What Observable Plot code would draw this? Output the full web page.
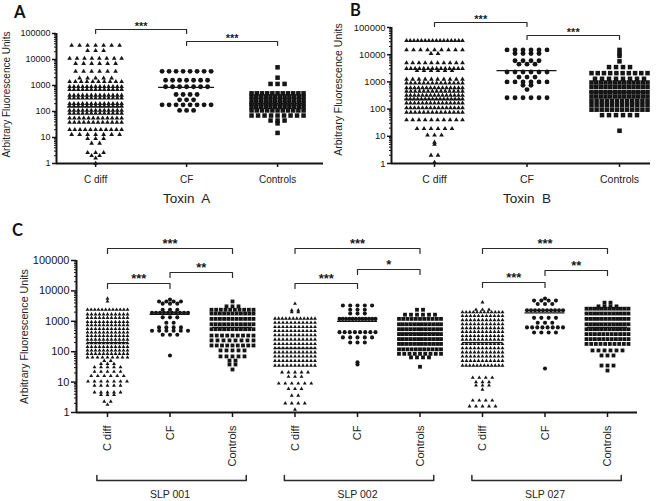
<!DOCTYPE html>
<html><head><meta charset="utf-8">
<script src="https://cdn.jsdelivr.net/npm/d3@7"></script>
<script src="https://cdn.jsdelivr.net/npm/@observablehq/plot@0.6"></script>
<style>
body{margin:0;background:#fff;}
#wrap{position:relative;width:660px;height:501px;overflow:hidden;background:#fff;}
#wrap > svg{position:absolute;}
</style></head><body><div id="wrap"></div><script>
// ---------- categories / labels ----------
const groupLabels = ["C diff", "CF", "Controls"];
const slpSets = ["SLP 001", "SLP 002", "SLP 027"];
const toxinTitles = ["Toxin  A", "Toxin  B"];
const panelLetters = ["A", "B", "C"];
const yTicks = [1, 10, 100, 1000, 10000, 100000];
const yLabel = "Arbitrary Fluorescence Units";

// ---------- data: [value, number of points at that value] ----------
const toxinA_Cdiff = [[35000,7],[22000,3],[11000,8],[7000,6],[3500,6],[1900,5],[1400,10],[900,13],[700,13],[420,13],[330,13],[200,13],[160,13],[110,13],[85,13],[55,12],[38,12],[20,11],[13,7],[9,3],[6,2],[2.6,3],[2,2],[1.6,1],[1,1]];
const toxinA_CF = [[3500,8],[1600,7],[900,7],[450,4],[280,3],[180,8],[110,3]];
const toxinA_Controls = [[5000,1],[2000,1],[1150,3],[500,11],[380,12],[280,12],[200,12],[150,12],[110,11],[70,9],[45,3],[35,1],[15,1]];
const toxinA_medians = [150, 850, 200];

const toxinB_Cdiff = [[33000,16],[15000,9],[11000,2],[5000,10],[3100,14],[2600,6],[1250,10],[900,14],[600,15],[450,14],[320,15],[230,16],[165,15],[110,15],[75,14],[40,10],[19,6],[11,3],[6,1],[5,1],[2,2],[1.1,1]];
const toxinB_CF = [[15000,6],[11000,4],[6000,4],[4500,3],[2300,6],[1500,3],[1000,6],[750,2],[520,1],[260,6]];
const toxinB_Controls = [[15000,1],[11000,1],[9000,1],[5700,1],[3500,4],[2100,10],[1300,8],[950,13],[650,13],[420,13],[290,13],[200,12],[140,12],[95,12],[60,6],[16,1]];
const toxinB_medians = [230, 2600, 420];

const slp001_Cdiff = [[5600,1],[4500,1],[2400,12],[1700,11],[1300,11],[950,11],[750,11],[560,11],[430,11],[330,11],[250,11],[190,11],[145,11],[110,11],[85,11],[65,9],[50,2],[40,3],[31,5],[22,5],[16,6],[10.5,7],[7.7,5],[4.6,5],[3.8,3],[2.3,2],[1.8,1]];
const slp001_CF = [[5200,1],[4500,4],[3800,3],[2400,3],[1900,10],[1350,3],[900,2],[630,4],[490,6],[360,3],[75,1]];
const slp001_Controls = [[4500,1],[3100,3],[2400,10],[1800,11],[1200,11],[800,11],[550,11],[340,9],[235,8],[160,9],[110,5],[70,5],[51,2],[38,2],[26,1]];
const slp001_medians = [200, 1700, 630];

const slp002_Cdiff = [[3800,1],[2300,2],[2000,2],[1230,12],[900,11],[650,11],[480,11],[350,11],[250,11],[180,11],[130,11],[95,11],[70,11],[50,11],[35,11],[21,5],[15,3],[9,6],[6,3],[3.6,2],[2,4],[1.25,1]];
const slp002_CF = [[3300,5],[2400,3],[1800,3],[1200,12],[440,8],[295,5],[200,3],[45,1],[38,1]];
const slp002_Controls = [[2400,2],[1650,6],[1200,11],[800,12],[550,12],[380,12],[260,12],[180,12],[120,11],[85,9],[65,4],[32,1]];
const slp002_medians = [130, 1000, 400];

const slp027_Cdiff = [[4200,1],[2400,3],[2000,12],[1500,11],[1100,11],[800,11],[600,11],[450,11],[330,11],[250,11],[180,11],[130,11],[95,11],[70,11],[50,11],[35,12],[14,4],[10,3],[7.8,3],[5.7,1],[2.5,4],[1.6,5]];
const slp027_CF = [[5600,1],[4800,4],[3700,3],[2300,10],[1300,4],[900,3],[630,8],[430,4],[28,1]];
const slp027_Controls = [[4100,2],[3100,4],[2600,12],[1800,12],[1200,12],[800,12],[550,12],[380,11],[260,11],[180,10],[110,6],[75,3],[35,3],[24,1]];
const slp027_medians = [200, 1900, 630];

// significance labels
const toxinA_sig = ["***", "***"];
const toxinB_sig = ["***", "***"];
const slp_sig = [["***","***","**"],["***","***","*"],["***","***","**"]];

// ---------- layout ----------
const FONT = '"Liberation Sans", Arial, Helvetica, sans-serif';
const INK = "#151515";
const symbols = ["triangle", "circle", "square"];
const minorTicks = [];
for (let e = 0; e < 5; e++) for (let k = 2; k < 10; k++) minorTicks.push(k * 10 ** e);

function buildPanel(cfg) {
  const {width, height, mL, mR, mT, mB, xDomain} = cfg;
  const yRange = [height - mB, mT];
  const yScale = Plot.scale({y: {type: "log", domain: [1, 1e5], range: yRange}});
  const Y = px => yScale.invert(px);
  const ppu = (width - mL - mR) / (xDomain[1] - xDomain[0]);
  const marks = [];
  // points
  cfg.groups.forEach(g => {
    const pts = [];
    g.levels.forEach(([v, n]) => {
      const sp = n > 1 ? Math.min(g.sparse, g.maxW / (n - 1)) : 0;
      for (let i = 0; i < n; i++) pts.push({v, x: g.x + (i - (n - 1) / 2) * sp / ppu});
    });
    marks.push(Plot.dot(pts, {x: "x", y: "v", symbol: g.symbol, r: g.r, fill: INK, stroke: "none"}));
  });
  // medians
  const med = cfg.groups.map(g => ({x: g.x, v: g.median}));
  marks.push(Plot.ruleY(med, {y: "v", x1: d => d.x - cfg.medHalf / ppu, x2: d => d.x + cfg.medHalf / ppu, stroke: INK, strokeWidth: 1.2}));
  // axes lines
  marks.push(Plot.ruleX([xDomain[0]], {y1: 1, y2: 1e5, stroke: INK, strokeWidth: 2}));
  marks.push(Plot.ruleY([1], {x1: xDomain[0], x2: xDomain[1], stroke: INK, strokeWidth: 2}));
  marks.push(Plot.axisY({ticks: yTicks, tickFormat: d => String(d), tickSize: cfg.tickSize, tickPadding: 2, fontSize: cfg.yFont, label: null, anchor: "left", strokeWidth: 1.5, stroke: INK, fill: INK}));
  marks.push(Plot.axisY({ticks: minorTicks, tickFormat: () => "", tickSize: 2, label: null, anchor: "left", stroke: INK}));
  marks.push(Plot.axisX({ticks: cfg.xTicks, tickFormat: i => groupLabels[i % 3], tickSize: cfg.xTickSize, tickPadding: cfg.xPad, tickRotate: cfg.xRotate, fontSize: cfg.xFont, label: null, anchor: "bottom", strokeWidth: 1.5, stroke: INK, fill: "#222"}));
  // y label
  marks.push(Plot.text([yLabel], {x: xDomain[0], y: Y(cfg.yLabelPx), dx: cfg.yLabelDx, rotate: -90, text: d => d, fontSize: cfg.yLabelSize, fill: "#222"}));
  // x title(s)
  if (cfg.titles) marks.push(Plot.text(cfg.titles, {x: "x", y: d => Y(d.px), text: "label", fontSize: cfg.titleSize, fill: "#222"}));
  // significance brackets
  const br = [];
  cfg.brackets.forEach((b, i) => {
    const yb = Y(b.px), yt = Y(b.px + cfg.tip);
    br.push({id: i, x: b.from, y: yt}, {id: i, x: b.from, y: yb}, {id: i, x: b.to, y: yb}, {id: i, x: b.to, y: yt});
  });
  marks.push(Plot.line(br, {x: "x", y: "y", z: "id", stroke: "#2a2a2a", strokeWidth: 1.2}));
  marks.push(Plot.text(cfg.brackets, {x: b => (b.from + b.to) / 2, y: b => Y(b.px - cfg.starOff + 0.27 * cfg.starSize), text: "label", fontSize: cfg.starSize, fill: "#111", fillOpacity: 0.99, fontWeight: "bold"}));
  // group brackets (panel C)
  if (cfg.groupBrackets) {
    const gb = [];
    cfg.groupBrackets.forEach((b, i) => {
      const yb = Y(b.px), yt = Y(b.px - 5);
      gb.push({id: i, x: b.from, y: yt}, {id: i, x: b.from, y: yb}, {id: i, x: b.to, y: yb}, {id: i, x: b.to, y: yt});
    });
    marks.push(Plot.line(gb, {x: "x", y: "y", z: "id", stroke: "#2a2a2a", strokeWidth: 1.5}));
    marks.push(Plot.text(cfg.groupBrackets, {x: "mid", y: b => Y(b.labelPx), text: "label", fontSize: 10.5, fill: "#222"}));
  }
  const svg = Plot.plot({
    width, height, marginLeft: mL, marginRight: mR, marginTop: mT, marginBottom: mB,
    x: {type: "linear", domain: xDomain, range: [mL, width - mR]},
    y: {type: "log", domain: [1, 1e5], range: yRange},
    style: {fontFamily: FONT, background: "transparent", overflow: "visible", color: INK},
    marks
  });
  svg.style.left = cfg.left + "px";
  svg.style.top = cfg.top + "px";
  return svg;
}

const gA = [toxinA_Cdiff, toxinA_CF, toxinA_Controls];
const gB = [toxinB_Cdiff, toxinB_CF, toxinB_Controls];
const panelA = {
  left: 0, top: 0, width: 330, height: 210, mL: 56, mR: 7, mT: 33, mB: 47, xDomain: [-0.43, 2.505],
  groups: gA.map((lv, i) => ({x: i, levels: lv, symbol: symbols[i], median: toxinA_medians[i],
    r: [1.75, 2.45, 2.55][i], maxW: [52, 50, 52][i], sparse: [8, 7, 7][i]})),
  medHalf: 28, tickSize: 4, yFont: 9, xTicks: [0, 1, 2], xTickSize: 4, xPad: 8, xRotate: 0, xFont: 10,
  yLabelPx: 94, yLabelDx: -50, yLabelSize: 10,
  titles: [{x: 1, px: 198, label: toxinTitles[0]}], titleSize: 13.5,
  brackets: [{from: 0, to: 1, px: 29, label: toxinA_sig[0]}, {from: 1, to: 2, px: 41, label: toxinA_sig[1]}],
  tip: 4, starOff: 6, starSize: 11
};
const panelB = {
  left: 330, top: 0, width: 330, height: 210, mL: 61, mR: 10, mT: 27, mB: 47, xDomain: [-0.465, 2.335],
  groups: gB.map((lv, i) => ({x: i, levels: lv, symbol: symbols[i], median: toxinB_medians[i],
    r: [1.75, 2.45, 2.55][i], maxW: [56, 52, 56][i], sparse: [7, 8, 7][i]})),
  medHalf: 30, tickSize: 4, yFont: 9.5, xTicks: [0, 1, 2], xTickSize: 4, xPad: 8, xRotate: 0, xFont: 10.5,
  yLabelPx: 89, yLabelDx: -53, yLabelSize: 10.5,
  titles: [{x: 1, px: 198, label: toxinTitles[1]}], titleSize: 13.5,
  brackets: [{from: 0, to: 1, px: 22, label: toxinB_sig[0]}, {from: 1, to: 2, px: 35, label: toxinB_sig[1]}],
  tip: 4, starOff: 6, starSize: 11
};
const slpData = [[slp001_Cdiff, slp001_CF, slp001_Controls], [slp002_Cdiff, slp002_CF, slp002_Controls], [slp027_Cdiff, slp027_CF, slp027_Controls]];
const slpMed = [slp001_medians, slp002_medians, slp027_medians];
const barPx = [[18, 53, 42], [18, 53, 39], [18, 52, 40]];
const pairs = [[0, 2], [0, 1], [1, 2]];
const panelC = {
  left: 0, top: 230, width: 660, height: 271, mL: 76, mR: 23, mT: 30, mB: 89, xDomain: [-0.496, 8.48],
  groups: slpData.flatMap((set, k) => set.map((lv, i) => ({x: 3 * k + i, levels: lv, symbol: symbols[i], median: slpMed[k][i],
    r: [1.45, 2.05, 2.15][i], maxW: [40, 36, 42][i], sparse: [6.5, 7.3, 6][i]}))),
  medHalf: 20, tickSize: 5, yFont: 11, xTicks: d3.range(9), xTickSize: 5, xPad: 8, xRotate: -90, xFont: 11,
  yLabelPx: 106, yLabelDx: -52, yLabelSize: 10.7,
  brackets: slpData.flatMap((set, k) => pairs.map((p, j) => ({from: 3 * k + p[0], to: 3 * k + p[1], px: barPx[k][j], label: slp_sig[k][j]}))),
  tip: 5, starOff: 8.5, starSize: 13,
  groupBrackets: slpSets.map((s, k) => ({from: 3 * k - 0.17, to: 3 * k + 2.22, mid: 3 * k + 1, px: 250, labelPx: 264, label: s}))
};

const wrap = document.getElementById("wrap");
[panelA, panelB, panelC].forEach(p => wrap.appendChild(buildPanel(p)));

// panel letters
const over = d3.select(wrap).append("svg").attr("width", 660).attr("height", 501).style("left", "0px").style("top", "0px");
const letterPos = [[14, 18], [350, 16], [12, 236]];
over.selectAll("text").data(panelLetters).join("text")
  .attr("x", (d, i) => letterPos[i][0]).attr("y", (d, i) => letterPos[i][1])
  .attr("font-family", 'Lato, "Open Sans", sans-serif').attr("font-weight", "bold").attr("font-size", 16.5)
  .attr("fill", "#111").text(d => d);
</script></body></html>
